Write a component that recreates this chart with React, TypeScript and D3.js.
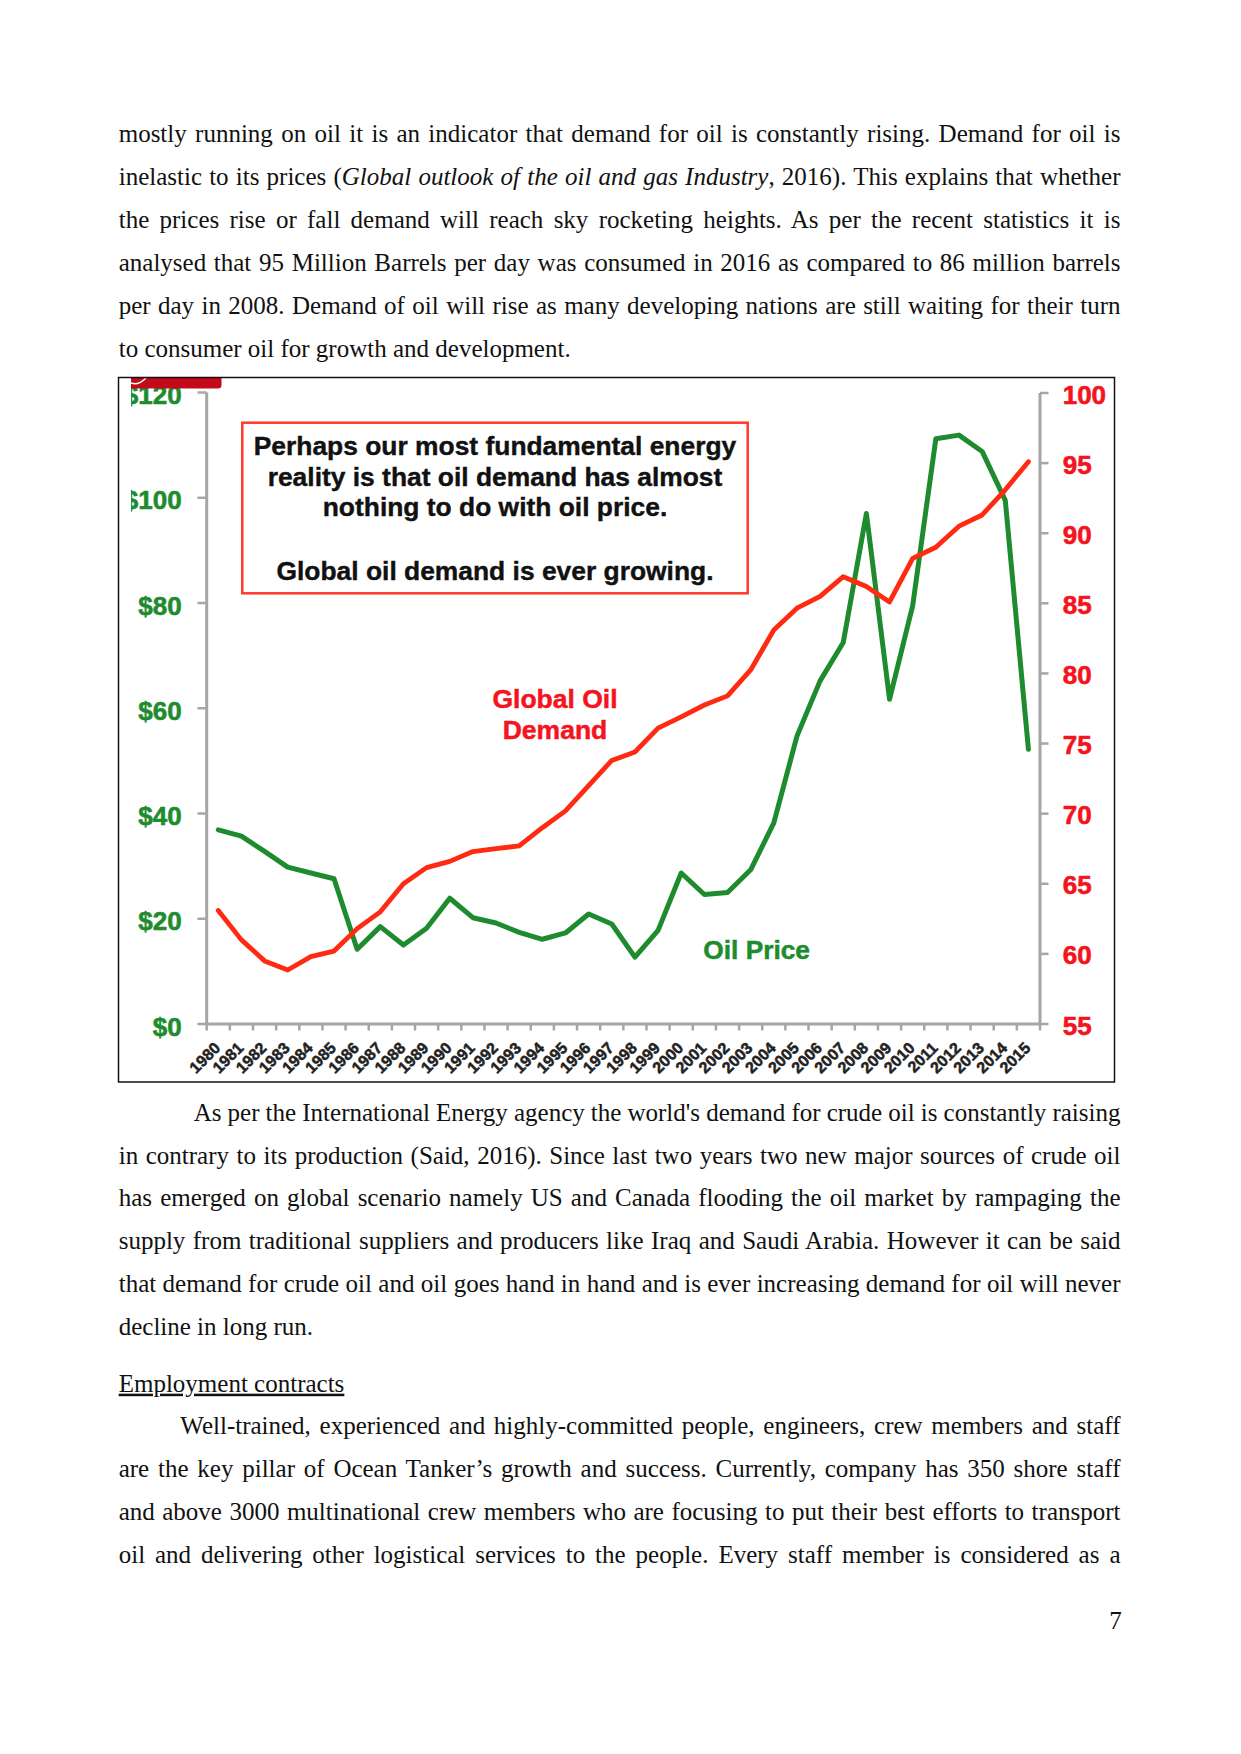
import React, { useLayoutEffect, useRef } from "react";
import * as d3 from "d3";

const years = ["1980","1981","1982","1983","1984","1985","1986","1987","1988","1989","1990","1991","1992","1993","1994","1995","1996","1997","1998","1999","2000","2001","2002","2003","2004","2005","2006","2007","2008","2009","2010","2011","2012","2013","2014","2015"];
const oilPrice = [36.9,35.7,32.8,29.8,28.7,27.6,14.2,18.5,15.0,18.2,23.9,20.2,19.2,17.4,16.1,17.3,20.9,19.0,12.7,17.8,28.7,24.6,25.0,29.3,38.2,54.7,65.2,72.5,97.0,61.7,79.5,111.2,111.9,108.8,99.5,52.2];
const oilDemand = [63.1,61.0,59.5,58.85,59.8,60.2,61.8,63.0,65.0,66.15,66.6,67.3,67.5,67.7,69.0,70.2,72.0,73.8,74.4,76.1,76.9,77.75,78.4,80.25,83.1,84.65,85.5,86.9,86.2,85.1,88.2,89.0,90.5,91.3,93.1,95.1];
const priceTicks = [0,20,40,60,80,100,120];
const demandTicks = [55,60,65,70,75,80,85,90,95,100];
const quoteLines = ["Perhaps our most fundamental energy","reality is that oil demand has almost","nothing to do with oil price.","","Global oil demand is ever growing."];

type Seg = { t: string; i?: boolean };
type Line = { segs: Seg[]; y: number; x: number; justify: boolean; u?: boolean };

const L = 118.7, R = 1120.5;
const para1: Line[] = [
  { segs: [{ t: "mostly running on oil it is an indicator that demand for oil is constantly rising. Demand for oil is" }], y: 141.7, x: L, justify: true },
  { segs: [{ t: "inelastic to its prices (" }, { t: "Global outlook of the oil and gas Industry", i: true }, { t: ", 2016). This explains that whether" }], y: 184.7, x: L, justify: true },
  { segs: [{ t: "the prices rise or fall demand will reach sky rocketing heights. As per the recent statistics it is" }], y: 227.7, x: L, justify: true },
  { segs: [{ t: "analysed that 95 Million Barrels per day was consumed in 2016 as compared to 86 million barrels" }], y: 270.7, x: L, justify: true },
  { segs: [{ t: "per day in 2008. Demand of oil will rise as many developing nations are still waiting for their turn" }], y: 313.7, x: L, justify: true },
  { segs: [{ t: "to consumer oil for growth and development." }], y: 356.7, x: L, justify: false },
];
const para2: Line[] = [
  { segs: [{ t: "As per the International Energy agency the world's demand for crude oil is constantly raising" }], y: 1120.7, x: 193.7, justify: true },
  { segs: [{ t: "in contrary to its production (Said, 2016). Since last two years two new major sources of crude oil" }], y: 1163.7, x: L, justify: true },
  { segs: [{ t: "has emerged on global scenario namely US and Canada flooding the oil market by rampaging the" }], y: 1206.4, x: L, justify: true },
  { segs: [{ t: "supply from traditional suppliers and producers like Iraq and Saudi Arabia. However it can be said" }], y: 1249.0, x: L, justify: true },
  { segs: [{ t: "that demand for crude oil and oil goes hand in hand and is ever increasing demand for oil will never" }], y: 1291.7, x: L, justify: true },
  { segs: [{ t: "decline in long run." }], y: 1335.0, x: L, justify: false },
];
const para3: Line[] = [
  { segs: [{ t: "Employment contracts" }], y: 1391.7, x: L, justify: false, u: true },
  { segs: [{ t: "Well-trained, experienced and highly-committed people, engineers, crew members and staff" }], y: 1434.3, x: 180.3, justify: true },
  { segs: [{ t: "are the key pillar of Ocean Tanker\u2019s growth and success. Currently, company has 350 shore staff" }], y: 1477.3, x: L, justify: true },
  { segs: [{ t: "and above 3000 multinational crew members who are focusing to put their best efforts to transport" }], y: 1520.3, x: L, justify: true },
  { segs: [{ t: "oil and delivering other logistical services to the people. Every staff member is considered as a" }], y: 1563.3, x: L, justify: true },
];
const allLines = [...para1, ...para2, ...para3];

const GREEN = "#1e8c2e";
const RED_LINE = "#ff2a12";
const RED_TEXT = "#f5141e";
const AXIS = "#a6a6a6";

export default function App() {
  const ref = useRef<SVGSVGElement>(null);

  useLayoutEffect(() => {
    const svg = ref.current;
    if (!svg) return;
    svg.querySelectorAll<SVGTextElement>("text.just").forEach((el) => {
      el.style.wordSpacing = "0px";
      const x0 = parseFloat(el.getAttribute("x") || "0");
      const target = R - x0;
      const len = el.getComputedTextLength();
      const spaces = (el.textContent || "").split(" ").length - 1;
      if (spaces > 0) el.style.wordSpacing = `${(target - len) / spaces}px`;
    });
  }, []);

  const x = d3.scaleBand<string>().domain(years).range([206.7, 1040]).padding(0);
  const bw = x.bandwidth();
  const cx = (y: string) => (x(y) as number) + bw / 2;
  const yL = d3.scaleLinear().domain([0, 120]).range([1024, 392.5]);
  const yR = d3.scaleLinear().domain([55, 100]).range([1024, 393]);

  const priceLine = d3.line<number>().x((_, i) => cx(years[i])).y((d) => yL(d)).curve(d3.curveLinear);
  const demandLine = d3.line<number>().x((_, i) => cx(years[i])).y((d) => yR(d)).curve(d3.curveLinear);

  const bounds = d3.range(years.length + 1).map((i) => 206.7 + i * bw);
  const chartFont = "'Liberation Sans', Arial, sans-serif";

  return (
    <svg ref={ref} width={1241} height={1754} style={{ position: "absolute", left: 0, top: 0, background: "#fff" }}>
      <rect x={0} y={0} width={1241} height={1754} fill="#fff" />
      <g fontFamily="'Liberation Serif', 'Times New Roman', serif" fontSize={25} fill="#111">
        {allLines.map((ln, k) => (
          <text key={k} className={ln.justify ? "just" : ""} x={ln.x} y={ln.y} textDecoration={ln.u ? "underline" : undefined} style={{ whiteSpace: "pre" }}>
            {ln.segs.map((s, j) => (
              <tspan key={j} fontStyle={s.i ? "italic" : "normal"}>{s.t}</tspan>
            ))}
          </text>
        ))}
        <text x={1121.7} y={1629.3} textAnchor="end">7</text>
      </g>

      <defs>
        <clipPath id="imgclip">
          <rect x={131} y={377} width={983} height={705} />
        </clipPath>
      </defs>

      <g clipPath="url(#imgclip)" fontFamily={chartFont} fontWeight="bold">
        {/* left axis */}
        <line x1={206.7} x2={206.7} y1={yL(120)} y2={1024} stroke={AXIS} strokeWidth={3} />
        {priceTicks.map((t) => (
          <g key={t}>
            <line x1={197.5} x2={206.7} y1={yL(t)} y2={yL(t)} stroke={AXIS} strokeWidth={2.5} />
            <text x={181.7} y={yL(t) + 11.5} textAnchor="end" fontSize={26} fill={GREEN} stroke={GREEN} strokeWidth={0.6}>{`$${t}`}</text>
          </g>
        ))}
        {/* right axis */}
        <line x1={1040} x2={1040} y1={yR(100)} y2={1024} stroke={AXIS} strokeWidth={3} />
        {demandTicks.map((t) => (
          <g key={t}>
            <line x1={1040} x2={1048.5} y1={yR(t)} y2={yR(t)} stroke={AXIS} strokeWidth={2.5} />
            <text x={1062.7} y={yR(t) + 10.5} textAnchor="start" fontSize={26} fill={RED_TEXT} stroke={RED_TEXT} strokeWidth={0.6}>{t}</text>
          </g>
        ))}
        {/* bottom axis */}
        <line x1={205.2} x2={1041.5} y1={1024} y2={1024} stroke={AXIS} strokeWidth={3} />
        {bounds.map((b, i) => (
          <line key={i} x1={b} x2={b} y1={1024} y2={1030.5} stroke={AXIS} strokeWidth={2.5} />
        ))}
        {years.map((yr) => (
          <text key={yr} transform={`translate(${cx(yr) + 3},1049) rotate(-45)`} textAnchor="end" fontSize={16} fill="#222" stroke="#222" strokeWidth={0.5}>{yr}</text>
        ))}

        {/* lines */}
        <path d={priceLine(oilPrice) || ""} fill="none" stroke={GREEN} strokeWidth={5} strokeLinejoin="round" strokeLinecap="round" />
        <path d={demandLine(oilDemand) || ""} fill="none" stroke={RED_LINE} strokeWidth={4.8} strokeLinejoin="round" strokeLinecap="round" />

        {/* annotation box */}
        <rect x={242.3} y={422.7} width={505.4} height={170.6} fill="#fff" stroke="#ff3b2f" strokeWidth={2.5} />
        {quoteLines.map((q, i) => (
          <text key={i} x={495} y={[455, 485.5, 516, 547, 580][i]} textAnchor="middle" fontSize={26.4} fill="#111" stroke="#111" strokeWidth={0.4}>{q}</text>
        ))}

        {/* series labels */}
        <text x={555} y={708} textAnchor="middle" fontSize={26.5} fill={RED_TEXT} stroke={RED_TEXT} strokeWidth={0.5}>Global Oil</text>
        <text x={555} y={739} textAnchor="middle" fontSize={26.5} fill={RED_TEXT} stroke={RED_TEXT} strokeWidth={0.5}>Demand</text>
        <text x={703.3} y={959.3} textAnchor="start" fontSize={26.3} fill={GREEN} stroke={GREEN} strokeWidth={0.5}>Oil Price</text>

        {/* red header tab of the source slide */}
        <path d="M131,377 H221.5 V385 Q221.5,388.5 218,388.5 H131 Z" fill="#c20a1c" />
        <path d="M131,383 Q138,386 146,378" fill="none" stroke="#fff" strokeWidth={1.5} />
      </g>

      {/* frame */}
      <rect x={118.5} y={377.5} width={996} height={704.5} fill="none" stroke="#111" strokeWidth={1.5} />
    </svg>
  );
}
